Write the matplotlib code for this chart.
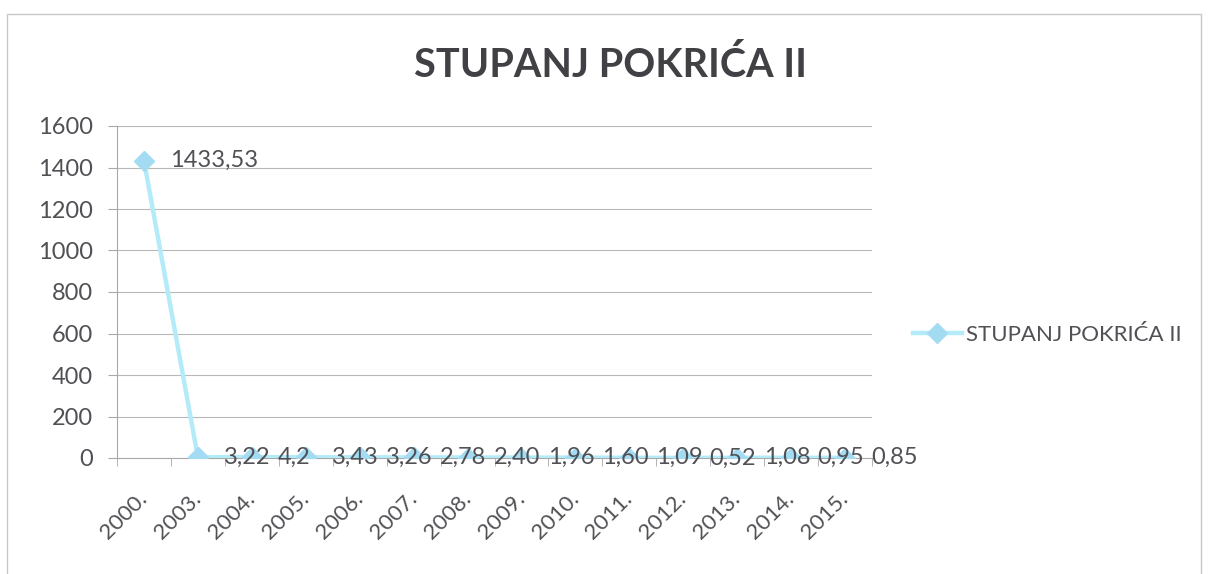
import matplotlib.pyplot as plt
import numpy as np

# data
years = ['2000.', '2003.', '2004.', '2005.', '2006.', '2007.', '2008.',
         '2009.', '2010.', '2011.', '2012.', '2013.', '2014.', '2015.']
values = [1433.53, 3.22, 4.2, 3.43, 3.26, 2.78, 2.40,
          1.96, 1.60, 1.09, 0.52, 1.08, 0.95, 0.85]
value_labels = ['1433,53', '3,22', '4,2', '3,43', '3,26', '2,78', '2,40',
                '1,96', '1,60', '1,09', '0,52', '1,08', '0,95', '0,85']
y_ticks = [0, 200, 400, 600, 800, 1000, 1200, 1400, 1600]

title = 'STUPANJ POKRIĆA II'
text_color = '#505055'
title_color = '#404045'
line_color = '#b3ebf9'
marker_color = '#a3dcf2'

plt.rcParams['font.family'] = ['Lato', 'DejaVu Sans']

fig = plt.figure(figsize=(12.09, 5.74), dpi=100)
ax = fig.add_axes([117 / 1209, 1 - 458 / 574, (872 - 117) / 1209, (458 - 126) / 574])

x = np.arange(len(years))
ax.plot(x, values, color=line_color, lw=3.2, marker='D', ms=10,
        mfc=marker_color, mec=marker_color, label=title, zorder=3)

for xi, v, lab in zip(x, values, value_labels):
    ax.annotate(lab, (xi, v), xytext=(19, 0), textcoords='offset points',
                ha='left', va='center', fontsize=17, color=text_color, zorder=4)

ax.set_xlim(-0.5, len(years) - 0.5)
ax.set_ylim(0, 1600)
ax.set_yticks(y_ticks)
ax.set_yticklabels([str(t) for t in y_ticks], fontsize=17, color=text_color)
ax.yaxis.grid(True, color='#b8b8b8', lw=0.8)
ax.set_axisbelow(True)

# labels under each category, tick marks between categories
ax.set_xticks(x)
ax.set_xticklabels(years, rotation=45, ha='right', va='center',
                   rotation_mode='anchor', fontsize=16, color=text_color)
ax.set_xticks(np.arange(-0.5, len(years)), minor=True)
ax.tick_params(axis='x', which='major', length=0, pad=27)
ax.tick_params(axis='x', which='minor', length=6, color='#a8a8a8', direction='out')
ax.tick_params(axis='y', length=6.5, color='#a8a8a8', pad=11)

for s in ['top', 'right']:
    ax.spines[s].set_visible(False)
for s in ['left', 'bottom']:
    ax.spines[s].set_color('#a8a8a8')
    ax.spines[s].set_linewidth(0.8)

fig.text(0.505, 1 - 65 / 574, title, ha='center', va='center',
         fontsize=28.5, fontweight='bold', color=title_color)

leg = fig.legend(loc='center left', bbox_to_anchor=(913 / 1209, 1 - 335 / 574),
                 frameon=False, fontsize=16, handlelength=2.2, handletextpad=0.2,
                 borderpad=0, borderaxespad=0)
for t in leg.get_texts():
    t.set_color(text_color)

# outer chart border
fig.add_artist(plt.Rectangle((7 / 1209, -0.05), 1194 / 1209, 1 - 14 / 574 + 0.05,
                             transform=fig.transFigure, fill=False,
                             edgecolor='#c8c8c8', lw=1))

fig.savefig('out.png', dpi=100)
